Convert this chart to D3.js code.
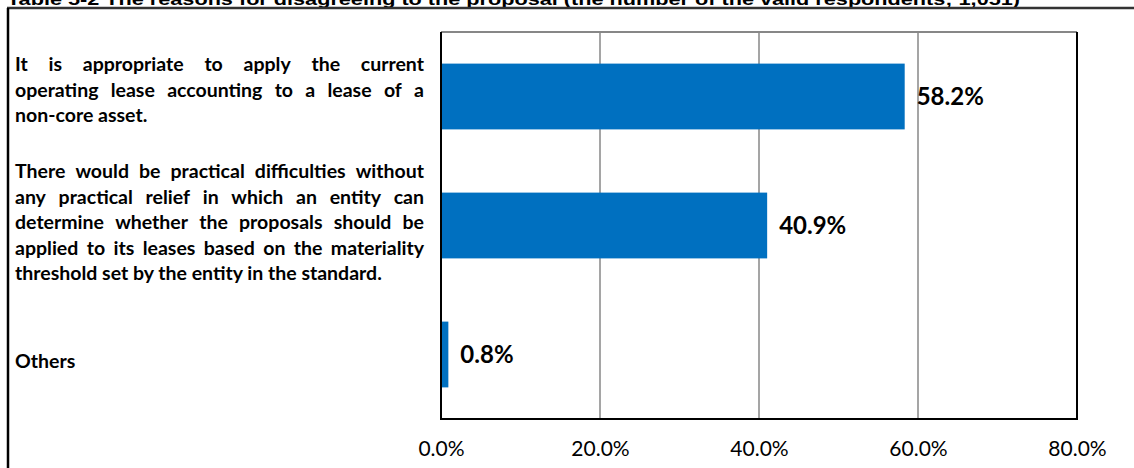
<!DOCTYPE html>
<html>
<head>
<meta charset="utf-8">
<script src="https://cdn.jsdelivr.net/npm/d3@7"></script>
<style>
  html, body { margin: 0; padding: 0; background: #fff; }
  svg { display: block; }
</style>
</head>
<body>
<svg id="chart" width="1134" height="468"></svg>
<script>
// Reasons for disagreeing, share of valid respondents (%)
const categories = ["appropriate", "difficulties", "others"];
const values = [58.2, 40.9, 0.8];
const categoryLines = [
  ["It is appropriate to apply the current", "operating lease accounting to a lease of a", "non-core asset."],
  ["There would be practical difficulties without", "any practical relief in which an entity can",
   "determine whether the proposals should be", "applied to its leases based on the materiality",
   "threshold set by the entity in the standard."],
  ["Others"]
];
const tickValues = [0, 20, 40, 60, 80];
const titleText = "Table 5-2 The reasons for disagreeing to the proposal (the number of the valid respondents; 1,051)";

const svg = d3.select("#chart");
const plot = { left: 441, right: 1077, top: 32, bottom: 419 };

const x = d3.scaleLinear().domain([0, 80]).range([plot.left, plot.right]);
const y = d3.scaleBand().domain(categories).range([plot.top, plot.bottom])
  .paddingInner(0.49).paddingOuter(0.245);

// Title, running off the top edge of the page
svg.append("text")
  .attr("x", 7).attr("y", 5)
  .attr("font-family", "Liberation Sans, Arial, sans-serif")
  .attr("font-weight", "bold").attr("font-size", 17)
  .attr("textLength", 1013).attr("lengthAdjust", "spacingAndGlyphs")
  .text(titleText);

// Outer frame (top rule and left rule)
svg.append("line").attr("x1", 7).attr("x2", 1134).attr("y1", 8).attr("y2", 8)
  .attr("stroke", "#333").attr("stroke-width", 2.5);
svg.append("line").attr("x1", 8).attr("x2", 8).attr("y1", 8).attr("y2", 468)
  .attr("stroke", "#000").attr("stroke-width", 2.5);

// Vertical gridlines
svg.append("g").selectAll("line").data(tickValues.slice(1, -1)).join("line")
  .attr("x1", d => x(d)).attr("x2", d => x(d))
  .attr("y1", plot.top).attr("y2", plot.bottom)
  .attr("stroke", "#878787").attr("stroke-width", 1.5);

// Plot border: grey top, black left/right/bottom
svg.append("line").attr("x1", plot.left).attr("x2", plot.right)
  .attr("y1", plot.top).attr("y2", plot.top)
  .attr("stroke", "#878787").attr("stroke-width", 2);
svg.append("path")
  .attr("d", `M${plot.left},${plot.top}V${plot.bottom}H${plot.right}V${plot.top}`)
  .attr("fill", "none").attr("stroke", "#000").attr("stroke-width", 2);

// Bars
svg.append("g").selectAll("rect").data(values).join("rect")
  .attr("x", x(0) + 1)
  .attr("y", (d, i) => y(categories[i]))
  .attr("width", d => x(d) - x(0))
  .attr("height", y.bandwidth())
  .attr("fill", "#0070C0");

// Value labels
svg.append("g").selectAll("text").data(values).join("text")
  .attr("x", d => x(d) + 13)
  .attr("y", (d, i) => y(categories[i]) + y.bandwidth() / 2)
  .attr("dy", "0.36em")
  .attr("font-family", "Lato, sans-serif")
  .attr("font-weight", "bold").attr("font-size", 24)
  .attr("fill", "#000")
  .text(d => d.toFixed(1) + "%");

// X axis tick labels
const xAxis = d3.axisBottom(x).tickValues(tickValues).tickSize(0).tickPadding(0)
  .tickFormat(d => d.toFixed(1) + "%");
const gx = svg.append("g").attr("transform", `translate(0,${plot.bottom + 22})`).call(xAxis);
gx.select(".domain").remove();
gx.selectAll("text")
  .attr("font-family", "Lato, sans-serif")
  .attr("font-size", 21).attr("fill", "#000");

// Category labels, justified between left and right margins
const labelLeft = 15, labelRight = 424, lineHeight = 25.5;
const firstBaselines = [71, 178, 368];
const gl = svg.append("g")
  .attr("font-family", "Lato, sans-serif")
  .attr("font-weight", "bold")
  .attr("font-size", 19.5)
  .attr("fill", "#000");

categoryLines.forEach((lines, ci) => {
  lines.forEach((line, li) => {
    const by = firstBaselines[ci] + li * lineHeight;
    const isLast = li === lines.length - 1;
    if (isLast) {
      gl.append("text").attr("x", labelLeft).attr("y", by).text(line);
      return;
    }
    const words = line.split(" ");
    const nodes = words.map(w => gl.append("text").attr("y", by).text(w));
    const widths = nodes.map(n => n.node().getComputedTextLength());
    const total = d3.sum(widths);
    const gap = (labelRight - labelLeft - total) / (words.length - 1);
    let cx = labelLeft;
    nodes.forEach((n, k) => {
      n.attr("x", cx);
      cx += widths[k] + gap;
    });
  });
});
</script>
</body>
</html>
